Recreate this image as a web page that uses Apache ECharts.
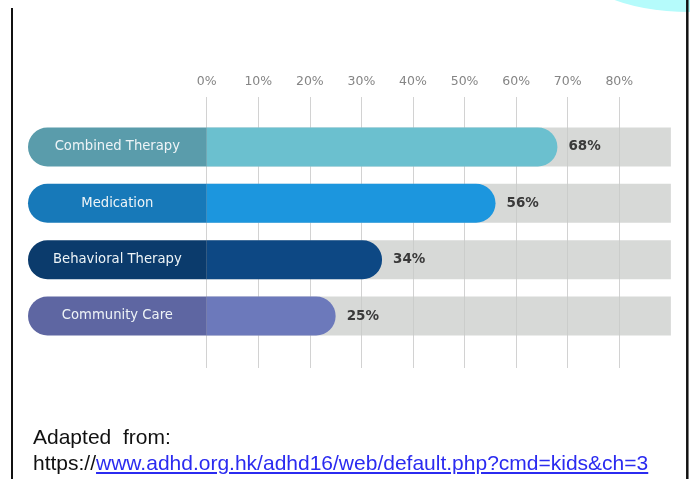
<!DOCTYPE html>
<html>
<head>
<meta charset="utf-8">
<script src="https://cdn.jsdelivr.net/npm/echarts@6/dist/echarts.min.js"></script>
<style>
  html, body { margin: 0; padding: 0; background: #ffffff; }
  #wrap { position: relative; width: 690px; height: 479px; overflow: hidden; }
  #chart { position: absolute; left: 0; top: 0; width: 690px; height: 479px; }
  #note { position: absolute; left: 33px; top: 424px; font-family: "Liberation Sans", Arial, sans-serif;
          font-size: 21px; line-height: 26px; color: #111; white-space: nowrap; }
  #note a { color: #2b2bf0; text-decoration: underline; }
</style>
</head>
<body>
<div id="wrap">
  <div id="chart"></div>
  <div id="note">Adapted&nbsp; from:<br>https://<a>www.adhd.org.hk/adhd16/web/default.php?cmd=kids&amp;ch=3</a></div>
</div>
<script>
// ---- data ----
var categories = ['Combined Therapy', 'Medication', 'Behavioral Therapy', 'Community Care'];
var values = [68, 56, 34, 25];
var trackValue = 90;
var tickLabels = ['0%', '10%', '20%', '30%', '40%', '50%', '60%', '70%', '80%'];
var colorsLeft = ['#5a9cab', '#1779b9', '#0b3b6c', '#5e66a2'];
var colorsRight = ['#6bc0cf', '#1c96de', '#0d4884', '#6c79bb'];

var chart = echarts.init(document.getElementById('chart'));

var W = 690, H = 479;
var zeroX = 206.7, maxX = 619.3;
var barsTop = 118.8, barsBottom = 344.2;

var option = {
  animation: false,
  grid: [
    { left: zeroX, right: W - maxX, top: 97, bottom: H - 368 },
    { left: zeroX, right: W - maxX, top: barsTop, bottom: H - barsBottom },
    { left: 28, right: W - zeroX, top: barsTop, bottom: H - barsBottom }
  ],
  xAxis: [
    {
      gridIndex: 0, type: 'value', position: 'top', min: 0, max: 80, interval: 10,
      axisLine: { show: false }, axisTick: { show: false },
      axisLabel: {
        margin: 9, color: '#858585', fontSize: 12.5, fontFamily: 'DejaVu Sans',
        formatter: function (v) { return tickLabels[Math.round(v / 10)]; }
      },
      splitLine: { show: true, lineStyle: { color: '#d2d2d2', width: 1 } }
    },
    { gridIndex: 1, type: 'value', min: 0, max: 80, show: false },
    { gridIndex: 2, type: 'value', min: 0, max: 1, show: false }
  ],
  yAxis: [
    { gridIndex: 0, type: 'category', data: categories, show: false, inverse: true },
    { gridIndex: 1, type: 'category', data: categories, show: false, inverse: true },
    { gridIndex: 2, type: 'category', data: categories, show: false, inverse: true }
  ],
  series: [
    {
      type: 'bar', xAxisIndex: 1, yAxisIndex: 1, barWidth: 39, clip: false, silent: true,
      data: categories.map(function () { return trackValue; }),
      itemStyle: { color: 'rgba(200,203,199,0.72)' }, z: 1
    },
    {
      type: 'bar', xAxisIndex: 1, yAxisIndex: 1, barWidth: 39, barGap: '-100%', z: 3,
      data: values.map(function (v, i) {
        return { value: v, itemStyle: { color: colorsRight[i] } };
      }),
      itemStyle: { borderRadius: [0, 20, 20, 0] },
      label: {
        show: true, position: 'right', distance: 11,
        formatter: '{c}%', color: '#3a3a3a', fontWeight: 'bold', fontSize: 13.5, fontFamily: 'DejaVu Sans'
      }
    },
    {
      type: 'bar', xAxisIndex: 2, yAxisIndex: 2, barWidth: 39, z: 3,
      data: categories.map(function (c, i) {
        return { value: 1, itemStyle: { color: colorsLeft[i] } };
      }),
      itemStyle: { borderRadius: [20, 0, 0, 20] },
      label: {
        show: true, position: 'inside', formatter: '{b}',
        color: '#eef4f7', fontSize: 13.2, fontFamily: 'DejaVu Sans'
      }
    }
  ],
  graphic: [
    {
      type: 'circle', x: 690, y: -42, scaleY: 0.45, z: 0,
      shape: { cx: 0, cy: 0, r: 120 },
      style: { fill: '#b5fbfb' }
    },
    {
      type: 'line', z: 10,
      shape: { x1: 12, y1: 8, x2: 12, y2: 479 },
      style: { stroke: '#111111', lineWidth: 2 }
    },
    {
      type: 'line', z: 10,
      shape: { x1: 687.3, y1: 0, x2: 687.3, y2: 479 },
      style: { stroke: '#111111', lineWidth: 2.5 }
    }
  ]
};

chart.setOption(option);
</script>
</body>
</html>
